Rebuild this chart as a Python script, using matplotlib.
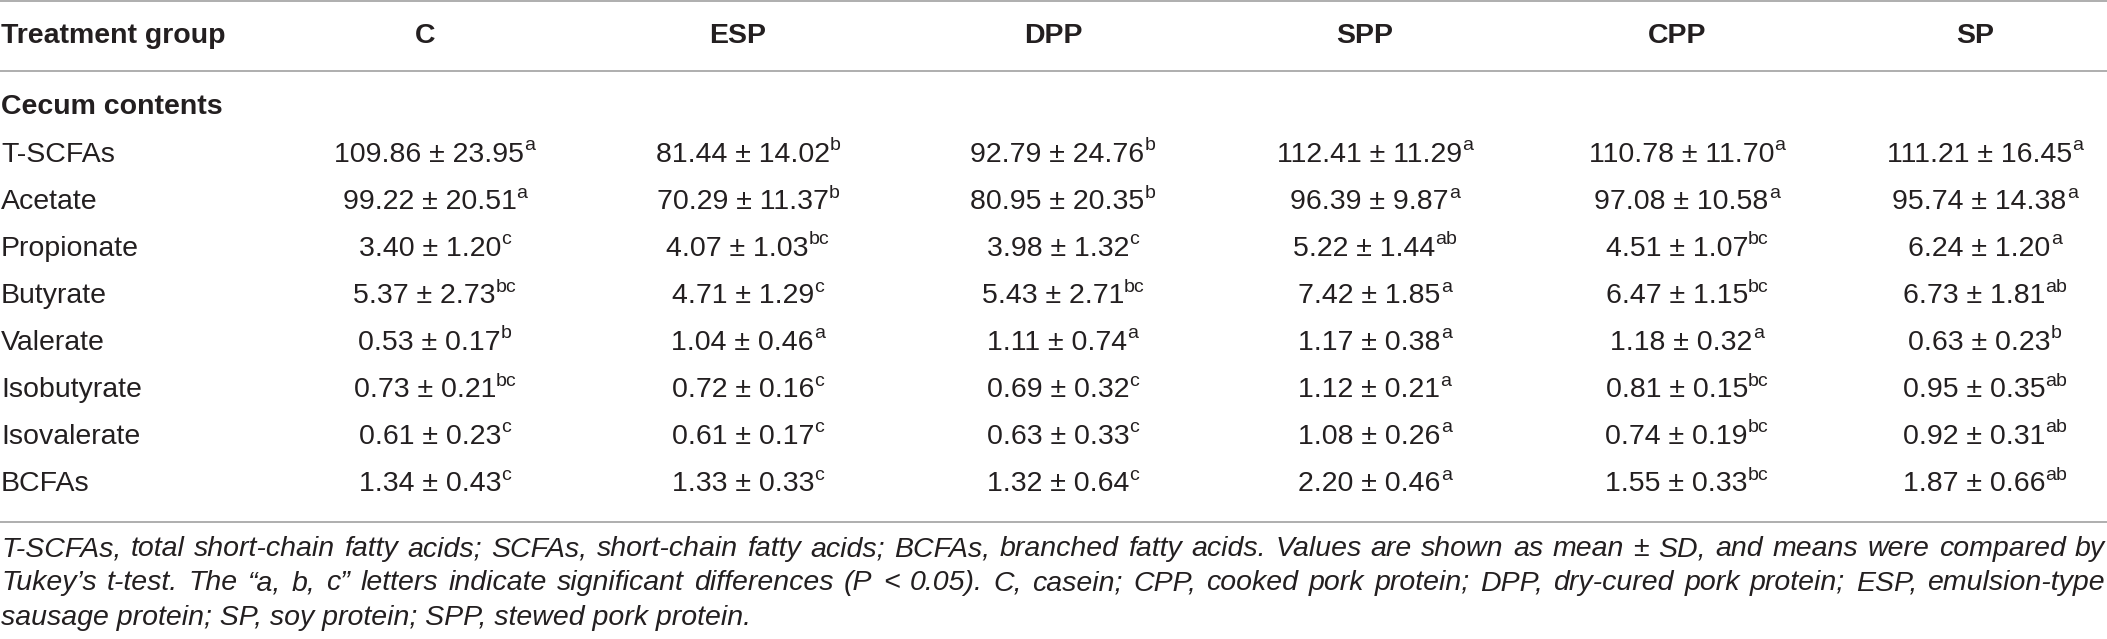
import matplotlib
matplotlib.use("Agg")
import matplotlib.pyplot as plt

# ==========================================
# Data
# ==========================================
GROUPS = ["C", "ESP", "DPP", "SPP", "CPP", "SP"]
ACIDS = ["T-SCFAs", "Acetate", "Propionate", "Butyrate", "Valerate",
         "Isobutyrate", "Isovalerate", "BCFAs"]

MEANS = [
    [109.86, 81.44, 92.79, 112.41, 110.78, 111.21],
    [99.22, 70.29, 80.95, 96.39, 97.08, 95.74],
    [3.40, 4.07, 3.98, 5.22, 4.51, 6.24],
    [5.37, 4.71, 5.43, 7.42, 6.47, 6.73],
    [0.53, 1.04, 1.11, 1.17, 1.18, 0.63],
    [0.73, 0.72, 0.69, 1.12, 0.81, 0.95],
    [0.61, 0.61, 0.63, 1.08, 0.74, 0.92],
    [1.34, 1.33, 1.32, 2.20, 1.55, 1.87],
]
SDS = [
    [23.95, 14.02, 24.76, 11.29, 11.70, 16.45],
    [20.51, 11.37, 20.35, 9.87, 10.58, 14.38],
    [1.20, 1.03, 1.32, 1.44, 1.07, 1.20],
    [2.73, 1.29, 2.71, 1.85, 1.15, 1.81],
    [0.17, 0.46, 0.74, 0.38, 0.32, 0.23],
    [0.21, 0.16, 0.32, 0.21, 0.15, 0.35],
    [0.23, 0.17, 0.33, 0.26, 0.19, 0.31],
    [0.43, 0.33, 0.64, 0.46, 0.33, 0.66],
]
LETTERS = [
    ["a", "b", "b", "a", "a", "a"],
    ["a", "b", "b", "a", "a", "a"],
    ["c", "bc", "c", "ab", "bc", "a"],
    ["bc", "c", "bc", "a", "bc", "ab"],
    ["b", "a", "a", "a", "a", "b"],
    ["bc", "c", "c", "a", "bc", "ab"],
    ["c", "c", "c", "a", "bc", "ab"],
    ["c", "c", "c", "a", "bc", "ab"],
]

HEADER_LABEL = "Treatment group"
SECTION_LABEL = "Cecum contents"
FOOTNOTE = [
    "T-SCFAs, total short-chain fatty acids; SCFAs, short-chain fatty acids; BCFAs, "
    "branched fatty acids. Values are shown as mean \u00b1 SD, and means were compared by",
    "Tukey\u2019s t-test. The \u201ca, b, c\u201d letters indicate significant differences "
    "(P < 0.05). C, casein; CPP, cooked pork protein; DPP, dry-cured pork protein; ESP, emulsion-type",
    "sausage protein; SP, soy protein; SPP, stewed pork protein.",
]

# ==========================================
# Layout
# ==========================================
W, H = 2107, 639
COL_X = [425, 738, 1053, 1365, 1677, 1975]
VAL_SHIFT = 10
HEADER_Y = 36
SECTION_Y = 107
ROW_Y0, ROW_DY = 155, 47.0
RULES_Y = [1.0, 71, 522]
FOOT_Y0, FOOT_DY = 549, 34.5
FS = 20.5
SUP_FS = 14
SUP_RAISE = 9
TEXT_COLOR = "#231f20"
RULE_COLOR = "#999999"
FONT = ["Liberation Sans", "DejaVu Sans"]

fig = plt.figure(figsize=(W / 100, H / 100), dpi=100)
ax = fig.add_axes([0, 0, 1, 1])
ax.set_xlim(0, W)
ax.set_ylim(H, 0)
ax.axis("off")
renderer = fig.canvas.get_renderer()


def text_width(t):
    bb = t.get_window_extent(renderer=renderer)
    return bb.width  # 1 px == 1 data unit here


for y in RULES_Y:
    ax.plot([0, W], [y, y], color=RULE_COLOR, lw=1.1, solid_capstyle="butt")

# header
ax.text(1, HEADER_Y, HEADER_LABEL, fontsize=FS, fontweight="bold", family=FONT,
        color=TEXT_COLOR, ha="left", va="center")
for x, g in zip(COL_X, GROUPS):
    ax.text(x, HEADER_Y, g, fontsize=FS, fontweight="bold", family=FONT,
            color=TEXT_COLOR, ha="center", va="center")

ax.text(1, SECTION_Y, SECTION_LABEL, fontsize=FS, fontweight="bold", family=FONT,
        color=TEXT_COLOR, ha="left", va="center")

# body
for i, acid in enumerate(ACIDS):
    y = ROW_Y0 + i * ROW_DY
    ax.text(1, y, acid, fontsize=FS, family=FONT, color=TEXT_COLOR,
            ha="left", va="center")
    for j, x in enumerate(COL_X):
        main = ax.text(0, y, f"{MEANS[i][j]:.2f} \u00b1 {SDS[i][j]:.2f}",
                       fontsize=FS, family=FONT, color=TEXT_COLOR,
                       ha="left", va="center")
        sup = ax.text(0, y - SUP_RAISE, LETTERS[i][j], fontsize=SUP_FS, family=FONT,
                      color=TEXT_COLOR, ha="left", va="center")
        wm = text_width(main)
        ws = text_width(sup)
        left = x + VAL_SHIFT - (wm + ws) / 2
        main.set_x(left)
        sup.set_x(left + wm)

# footnote, first two lines justified across the width
for k, line in enumerate(FOOTNOTE):
    y = FOOT_Y0 + k * FOOT_DY
    if k == len(FOOTNOTE) - 1:
        ax.text(1, y, line, fontsize=FS, family=FONT, style="italic",
                color=TEXT_COLOR, ha="left", va="center")
        continue
    words = line.split(" ")
    objs = [ax.text(0, y, w, fontsize=FS, family=FONT, style="italic",
                    color=TEXT_COLOR, ha="left", va="center") for w in words]
    widths = [text_width(o) for o in objs]
    gap = (W - 3 - sum(widths)) / (len(words) - 1)
    xpos = 1
    for o, w in zip(objs, widths):
        o.set_x(xpos)
        xpos += w + gap

fig.savefig("out.png", dpi=100)
